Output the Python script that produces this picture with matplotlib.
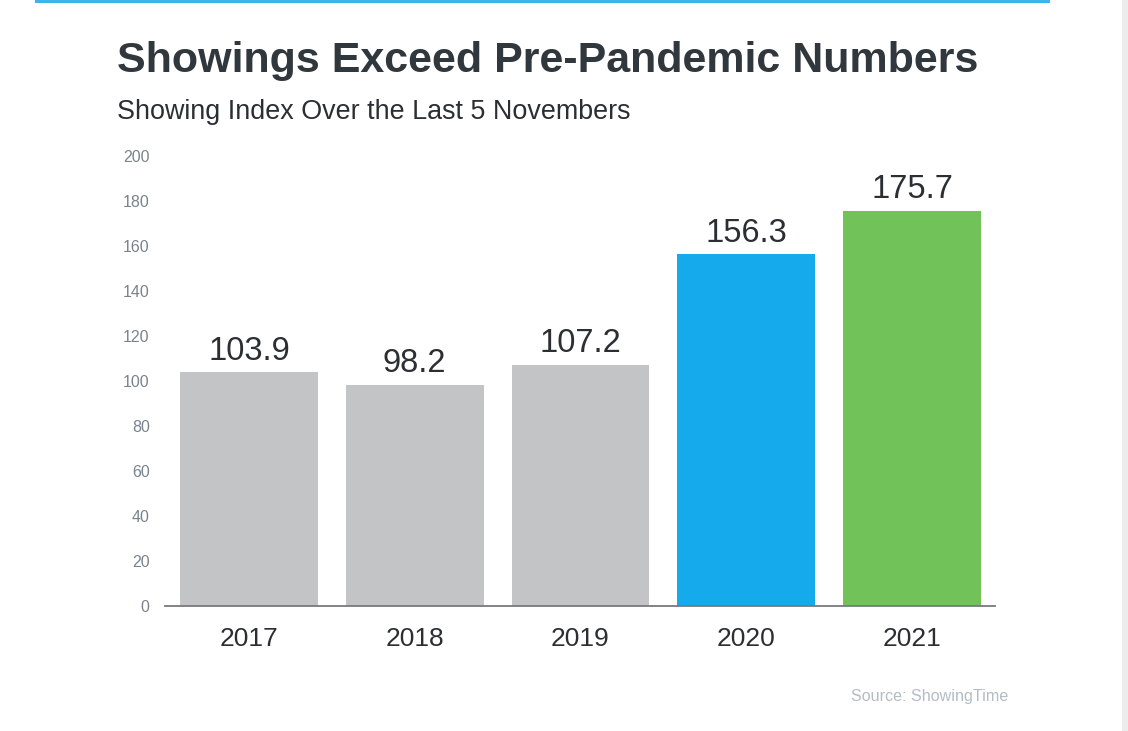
import numpy as np
import matplotlib.pyplot as plt
from matplotlib.patches import Rectangle

plt.rcParams['font.family'] = ['Liberation Sans', 'DejaVu Sans']

# data
Years = ["2017", "2018", "2019", "2020", "2021"]
Index = [103.9, 98.2, 107.2, 156.3, 175.7]
Colors = ["#c3c4c6", "#c3c4c6", "#c3c4c6", "#14aaeb", "#72c25a"]
YTicks = [0, 20, 40, 60, 80, 100, 120, 140, 160, 180, 200]

fig = plt.figure(figsize=(11.28, 7.31), dpi=100)
ax = fig.add_axes([165/1128, 1-606/731, 830/1128, 450/731])

x = np.arange(len(Years))
bars = ax.bar(x, Index, width=0.83, color=Colors)

#value labels above bars
for xi, v in zip(x, Index):
    ax.text(xi, v + 2.5, f"{v:.1f}", ha="center", va="bottom", fontsize=23.5, color="#2b2f33")

ax.set_xlim(-0.506, 4.5)
ax.set_ylim(0, 200)
ax.set_yticks(YTicks)
ax.set_yticklabels([str(t) for t in YTicks], fontsize=11.5, color="#7a838d")
ax.set_xticks(x)
ax.set_xticklabels(Years, fontsize=19, color="#2b2f33")
ax.tick_params(axis="y", length=0, pad=11)
ax.tick_params(axis="x", length=0, pad=15)

for s in ["top", "right", "left"]:
    ax.spines[s].set_visible(False)
ax.spines["bottom"].set_color("#77797c")
ax.spines["bottom"].set_linewidth(1.3)

#titles
fig.text(117/1128, 1-61/731, "Showings Exceed Pre-Pandemic Numbers", fontsize=31,
         fontweight="bold", color="#30373d", va="center", ha="left")
fig.text(117/1128, 1-112/731, "Showing Index Over the Last 5 Novembers", fontsize=19.4,
         color="#2b2f33", va="center", ha="left")
fig.text(1008/1128, 1-696/731, "Source: ShowingTime", fontsize=11.6,
         color="#b4bcc4", va="center", ha="right")

#top blue line and grey edge
fig.add_artist(Rectangle((35/1128, 1-3/731), 1015/1128, 3/731, transform=fig.transFigure,
                         color="#3bb6e8", lw=0))
fig.add_artist(Rectangle((1122/1128, 0), 6/1128, 1, transform=fig.transFigure,
                         color="#ececec", lw=0))

fig.savefig("out.png", dpi=100)
